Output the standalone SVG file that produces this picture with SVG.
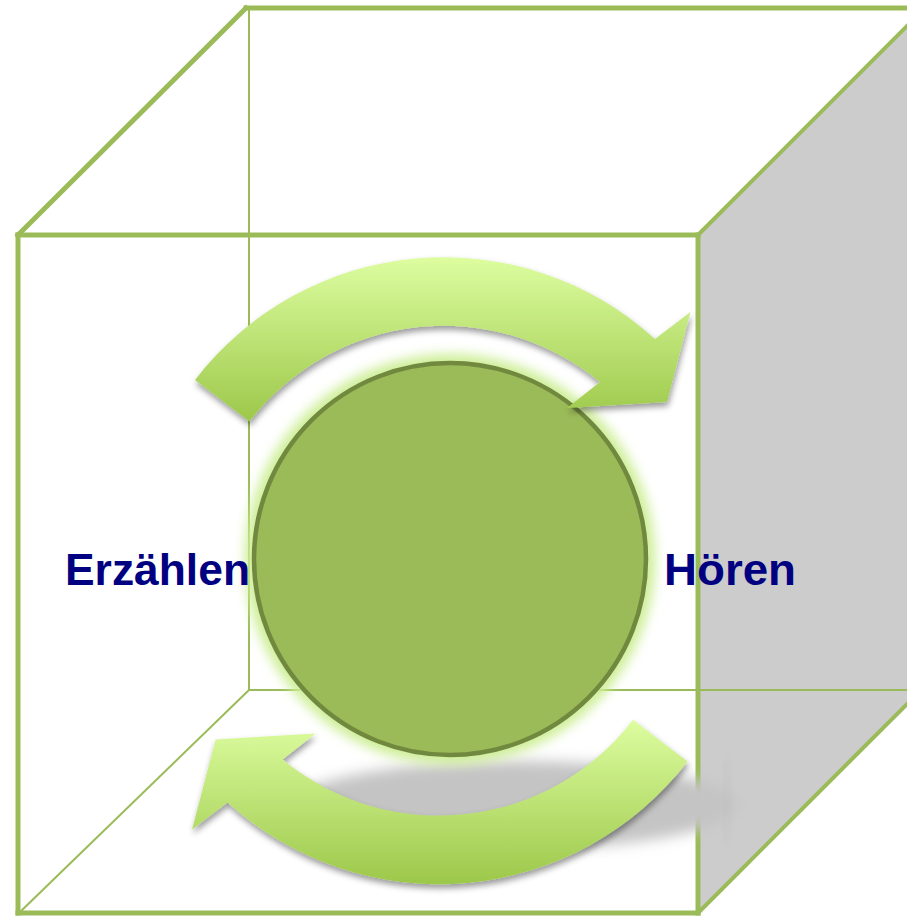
<svg xmlns="http://www.w3.org/2000/svg" width="907" height="916" viewBox="0 0 907 916">
<defs>
<linearGradient id="gTop" x1="0" y1="0" x2="0" y2="1">
<stop offset="0" stop-color="#ddfda0"/>
<stop offset="1" stop-color="#9cc84a"/>
</linearGradient>
<linearGradient id="gBot" x1="0" y1="1" x2="0" y2="0">
<stop offset="0" stop-color="#ddfda0"/>
<stop offset="1" stop-color="#9cc84a"/>
</linearGradient>
<filter id="arrowShadow" x="-10%" y="-10%" width="120%" height="130%">
<feDropShadow dx="1" dy="4" stdDeviation="3" flood-color="#000" flood-opacity="0.4"/>
</filter>
<filter id="blur6" x="-20%" y="-20%" width="140%" height="140%">
<feGaussianBlur stdDeviation="6"/>
</filter>
<filter id="blur8" x="-30%" y="-60%" width="160%" height="220%">
<feGaussianBlur stdDeviation="7"/>
</filter>
<style>
.thick{stroke:#9bbb59;stroke-width:5;fill:none;stroke-linecap:square}
.thin{stroke:#9bbb59;stroke-width:2;fill:none}
.mid{stroke:#9bbb59;stroke-width:4;fill:none}
.label{font-family:"Liberation Sans",Arial,sans-serif;font-weight:bold;font-size:45px;fill:#000080}
</style>
</defs>
<rect width="907" height="916" fill="#ffffff"/>
<g id="cube">
<polygon points="698,235 910,23 910,704 698,913" fill="#cccccc"/>
<line class="thin" x1="249" y1="8" x2="249" y2="690"/>
<line class="thin" x1="249" y1="690" x2="907" y2="690"/>
<line class="thin" x1="20" y1="912" x2="249" y2="690"/>
<line class="thick" x1="246" y1="8" x2="910" y2="8"/>
<line class="thick" x1="18" y1="235" x2="246" y2="8"/>
<line class="thick" x1="18" y1="235" x2="698" y2="235"/>
<line class="thick" x1="18" y1="235" x2="18" y2="913"/>
<line class="thick" x1="18" y1="913" x2="698" y2="913"/>
<line class="thick" x1="698" y1="235" x2="698" y2="913"/>
<line class="mid" x1="698" y1="235" x2="912" y2="21"/>
<line class="mid" x1="698" y1="913" x2="912" y2="699"/>
</g>
<g id="floor-shadow">
<ellipse cx="515" cy="805" rx="222" ry="44" fill="#c4c4c4" filter="url(#blur8)"/>
<rect x="724" y="760" width="6" height="82" fill="#b8b8b8" opacity="0.35" filter="url(#blur6)"/>
</g>
<g id="node-center">
<circle cx="450" cy="559" r="205" fill="#cdee96" filter="url(#blur6)"/>
<circle cx="450" cy="559" r="196" fill="#9bbb59" stroke="#71893f" stroke-width="4.5"/>
</g>
<g id="connectors">
<g filter="url(#arrowShadow)">
<path d="M195,380 A313.5,313.5 0 0 1 655,339 L690.5,312 L667,402 L567,408 L600,382 A245,245 0 0 0 249.5,421.6 Z" fill="url(#gTop)"/>
</g>
<g filter="url(#arrowShadow)">
<path transform="rotate(180 441.3 570.7)" d="M195,380 A313.5,313.5 0 0 1 655,339 L690.5,312 L667,402 L567,408 L600,382 A245,245 0 0 0 249.5,421.6 Z" fill="url(#gBot)"/>
</g>
</g>
<g id="node-erzaehlen">
<text class="label" x="65" y="585" textLength="185" lengthAdjust="spacingAndGlyphs">Erzählen</text>
</g>
<g id="node-hoeren">
<text class="label" x="664" y="585" textLength="132" lengthAdjust="spacingAndGlyphs">Hören</text>
</g>
</svg>
